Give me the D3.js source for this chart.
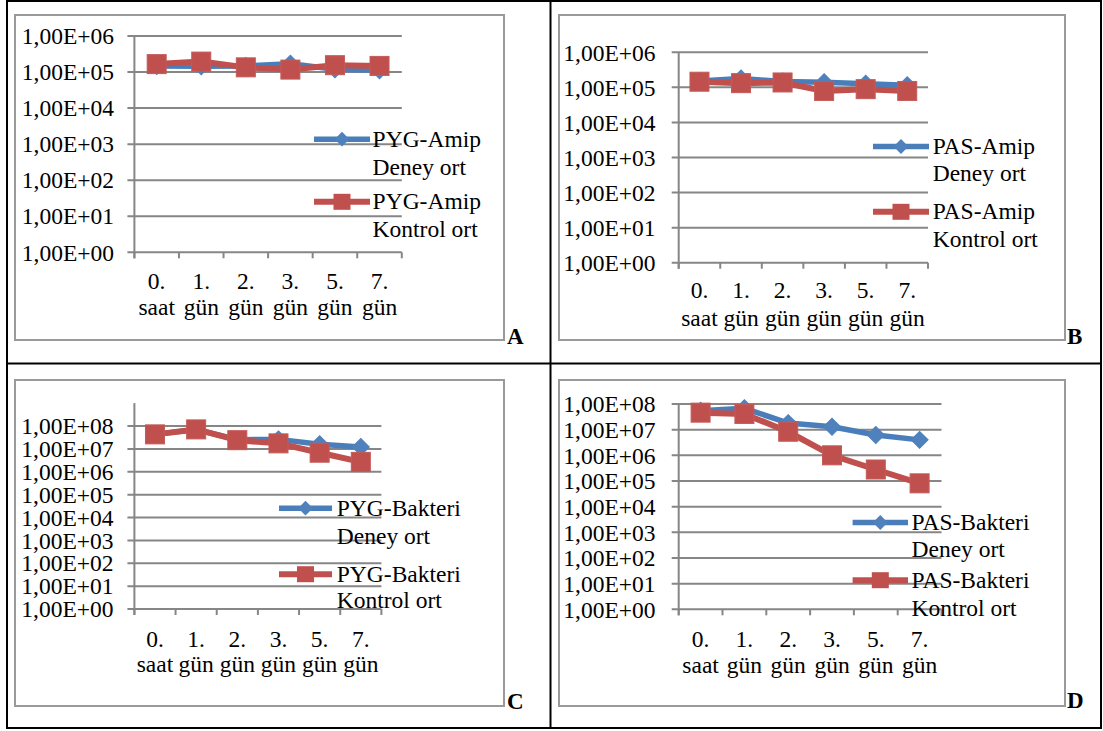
<!DOCTYPE html>
<html>
<head>
<meta charset="utf-8">
<script src="https://cdn.jsdelivr.net/npm/d3@7"></script>
<style>
  html, body { margin: 0; padding: 0; background: #fff; }
  svg { display: block; }
</style>
</head>
<body>
<svg id="fig" width="1103" height="731"></svg>
<script>
// Sampling times (two-line category labels)
const categories = [["0.", "saat"], ["1.", "gün"], ["2.", "gün"], ["3.", "gün"], ["5.", "gün"], ["7.", "gün"]];

// Log-axis tick values
const amipTicks = [1e0, 1e1, 1e2, 1e3, 1e4, 1e5, 1e6];
const bakteriTicks = [1e0, 1e1, 1e2, 1e3, 1e4, 1e5, 1e6, 1e7, 1e8];

// Series names
const pygAmipNames = ["PYG-Amip", "Deney ort", "PYG-Amip", "Kontrol ort"];
const pasAmipNames = ["PAS-Amip", "Deney ort", "PAS-Amip", "Kontrol ort"];
const pygBakteriNames = ["PYG-Bakteri", "Deney ort", "PYG-Bakteri", "Kontrol ort"];
const pasBakteriNames = ["PAS-Bakteri", "Deney ort", "PAS-Bakteri", "Kontrol ort"];

// Mean counts per sampling time
const pygAmipDeney      = [1.48e5, 1.45e5, 1.48e5, 1.70e5, 1.20e5, 1.12e5];
const pygAmipKontrol    = [1.66e5, 1.95e5, 1.35e5, 1.17e5, 1.55e5, 1.48e5];
const pasAmipDeney      = [1.51e5, 1.78e5, 1.48e5, 1.41e5, 1.26e5, 1.15e5];
const pasAmipKontrol    = [1.45e5, 1.32e5, 1.38e5, 7.9e4, 8.9e4, 7.9e4];
const pygBakteriDeney   = [4.3e7, 7.1e7, 2.5e7, 2.6e7, 1.6e7, 1.2e7];
const pygBakteriKontrol = [4.3e7, 7.1e7, 2.4e7, 1.74e7, 6.8e6, 2.7e6];
const pasBakteriDeney   = [5.5e7, 6.8e7, 1.8e7, 1.3e7, 6.2e6, 4.0e6];
const pasBakteriKontrol = [4.6e7, 4.1e7, 8.3e6, 1.0e6, 2.8e5, 8.1e4];

const BLUE = "#4F81BD", BLUE_LINE = "#4A7EBB", RED = "#C0504D";
const GRID = "#868686", FRAME = "#9a9a9a";
const FONT = "'Liberation Serif', 'Times New Roman', 'DejaVu Serif', serif";
const FS = 23.5;

const fmtTick = d => "1,00E+" + String(Math.round(Math.log10(d))).padStart(2, "0");

// Panel layout
const panels = [
  { letter: "A", deney: pygAmipDeney, kontrol: pygAmipKontrol, names: pygAmipNames, ticks: amipTicks,
    domainMax: 1e6, frame: [15, 15, 504, 340], x0: 134.4, x1: 401.8, yBot: 252.3, yTopTick: 36,
    labRight: 114, xLab: [289.3, 315], leg: { l0: 314, l1: 370, tx: 372.6, base: [146.7, 175, 209.3, 236.7] },
    letterPos: [507, 344] },
  { letter: "B", deney: pasAmipDeney, kontrol: pasAmipKontrol, names: pasAmipNames, ticks: amipTicks,
    domainMax: 1e6, frame: [559, 15, 1065, 340], x0: 678.7, x1: 928, yBot: 262.7, yTopTick: 52.3,
    labRight: 655.5, xLab: [298.3, 326], leg: { l0: 873, l1: 929, tx: 932.7, base: [154, 181, 219.3, 246.7] },
    letterPos: [1067, 344] },
  { letter: "C", deney: pygBakteriDeney, kontrol: pygBakteriKontrol, names: pygBakteriNames, ticks: bakteriTicks,
    domainMax: 1e9, frame: [15, 380, 504, 706], x0: 134.4, x1: 381.4, yBot: 609, yTopTick: 426,
    labRight: 113.5, xLab: [646.7, 671.7], leg: { l0: 279, l1: 332, tx: 336.8, base: [515.7, 544, 581.7, 608.3] },
    letterPos: [507, 709] },
  { letter: "D", deney: pasBakteriDeney, kontrol: pasBakteriKontrol, names: pasBakteriNames, ticks: bakteriTicks,
    domainMax: 1e8, frame: [559, 380, 1065, 706], x0: 678.7, x1: 941.5, yBot: 609.3, yTopTick: 404,
    labRight: 655.5, xLab: [646.7, 673.3], leg: { l0: 852.6, l1: 908, tx: 911.5, base: [530, 556.7, 587.7, 615.7] },
    letterPos: [1067, 708] }
];

const svg = d3.select("#fig");
svg.append("rect").attr("width", 1103).attr("height", 731).attr("fill", "#fff");

// Table grid around the four charts
const table = svg.append("g").attr("stroke", "#000").attr("stroke-width", 2);
[[7, 0, 7, 729], [550.5, 0, 550.5, 729], [1101, 0, 1101, 729],
 [6, 1, 1102, 1], [6, 363.5, 1102, 363.5], [6, 728, 1102, 728]].forEach(([a, b, c, d]) =>
  table.append("line").attr("x1", a).attr("y1", b).attr("x2", c).attr("y2", d));

const txt = (sel) => sel.attr("font-family", FONT).attr("fill", "#000");

// Square-diamond marker (rotated square)
const diamondPath = d3.symbol().type(d3.symbolSquare).size(145)();
const diamondSmall = d3.symbol().type(d3.symbolSquare).size(110)();

panels.forEach(p => {
  const g = svg.append("g");
  const [fx0, fy0, fx1, fy1] = p.frame;
  g.append("rect").attr("x", fx0).attr("y", fy0).attr("width", fx1 - fx0).attr("height", fy1 - fy0)
    .attr("fill", "none").attr("stroke", FRAME).attr("stroke-width", 2);

  const maxTick = p.ticks[p.ticks.length - 1];
  const step = (p.yBot - p.yTopTick) / Math.log10(maxTick);
  const y = d3.scaleLog().domain([1, p.domainMax])
    .range([p.yBot, p.yBot - step * Math.log10(p.domainMax)]);
  const x = d3.scaleBand().domain(categories.map((c, i) => i)).range([p.x0, p.x1]).padding(0);

  // Horizontal gridlines and left ticks
  g.append("g").selectAll("line").data(p.ticks).join("line")
    .attr("x1", p.x0 - 7).attr("x2", p.x1)
    .attr("y1", d => y(d)).attr("y2", d => y(d))
    .attr("stroke", GRID).attr("stroke-width", 2);

  // Y axis line
  g.append("line").attr("x1", p.x0).attr("x2", p.x0)
    .attr("y1", p.yBot + 6).attr("y2", y(p.domainMax))
    .attr("stroke", GRID).attr("stroke-width", 2);

  // X axis tick marks at band edges
  const edges = categories.map((c, i) => x(i)).concat([p.x1]);
  g.append("g").selectAll("line").data(edges).join("line")
    .attr("x1", d => d).attr("x2", d => d)
    .attr("y1", p.yBot).attr("y2", p.yBot + 6)
    .attr("stroke", GRID).attr("stroke-width", 2);

  // Y tick labels
  g.append("g").selectAll("text").data(p.ticks).join("text")
    .attr("x", p.labRight).attr("y", d => y(d) + 8.2)
    .attr("text-anchor", "end").attr("font-size", FS)
    .call(txt)
    .text(fmtTick);

  // X category labels
  const cx = i => x(i) + x.bandwidth() / 2;
  categories.forEach((c, i) => {
    c.forEach((line, k) => {
      g.append("text").attr("x", cx(i)).attr("y", p.xLab[k])
        .attr("text-anchor", "middle").attr("font-size", FS).call(txt).text(line);
    });
  });

  const line = d3.line().x((d, i) => cx(i)).y(d => y(d));

  // Deney series (blue diamonds)
  g.append("path").attr("d", line(p.deney)).attr("fill", "none")
    .attr("stroke", BLUE_LINE).attr("stroke-width", 5.5).attr("stroke-linejoin", "round");
  g.append("g").selectAll("path").data(p.deney).join("path")
    .attr("d", diamondPath)
    .attr("transform", (d, i) => `translate(${cx(i)},${y(d)}) rotate(45)`)
    .attr("fill", BLUE).attr("stroke", BLUE).attr("stroke-width", 1);

  // Kontrol series (red squares)
  g.append("path").attr("d", line(p.kontrol)).attr("fill", "none")
    .attr("stroke", RED).attr("stroke-width", 6).attr("stroke-linejoin", "round");
  g.append("g").selectAll("rect").data(p.kontrol).join("rect")
    .attr("x", (d, i) => cx(i) - 9.5).attr("y", d => y(d) - 9.5)
    .attr("width", 19).attr("height", 19)
    .attr("fill", RED).attr("stroke", "#c55a57").attr("stroke-width", 1);

  // Legend
  const L = p.leg;
  const my0 = L.base[0] - 7.5, my1 = L.base[2] - 7.5;
  g.append("line").attr("x1", L.l0).attr("x2", L.l1).attr("y1", my0).attr("y2", my0)
    .attr("stroke", BLUE_LINE).attr("stroke-width", 5.5);
  g.append("path").attr("d", diamondSmall)
    .attr("transform", `translate(${(L.l0 + L.l1) / 2},${my0}) rotate(45)`).attr("fill", BLUE);
  g.append("line").attr("x1", L.l0).attr("x2", L.l1).attr("y1", my1).attr("y2", my1)
    .attr("stroke", RED).attr("stroke-width", 6);
  g.append("rect").attr("x", (L.l0 + L.l1) / 2 - 8.5).attr("y", my1 - 8)
    .attr("width", 17).attr("height", 16).attr("fill", RED);
  p.names.forEach((t, k) => {
    g.append("text").attr("x", L.tx).attr("y", L.base[k]).attr("font-size", FS).call(txt).text(t);
  });

  // Panel letter
  g.append("text").attr("x", p.letterPos[0]).attr("y", p.letterPos[1])
    .attr("font-size", 23).attr("font-weight", "bold").call(txt).text(p.letter);
});
</script>
</body>
</html>
